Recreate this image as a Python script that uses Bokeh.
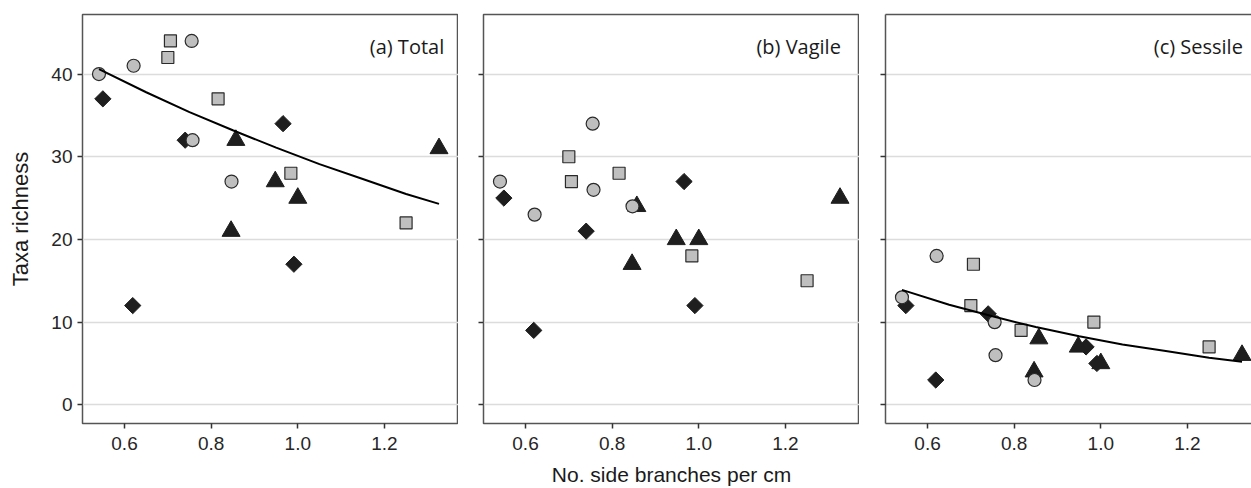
from bokeh.plotting import figure
from bokeh.layouts import row
from bokeh.models import Range1d, FixedTicker, NumeralTickFormatter, Label, LinearAxis
from bokeh.embed import file_html
from bokeh.resources import INLINE
import math

# ---- data ----
circle_x = [0.541, 0.621, 0.755, 0.757, 0.847]
circle_total = [40, 41, 44, 32, 27]
circle_vagile = [27, 23, 34, 26, 24]
circle_sessile = [13, 18, 10, 6, 3]

square_x = [0.700, 0.706, 0.816, 0.984, 1.250]
square_total = [42, 44, 37, 28, 22]
square_vagile = [30, 27, 28, 18, 15]
square_sessile = [12, 17, 9, 10, 7]

diamond_x = [0.550, 0.619, 0.740, 0.966, 0.991]
diamond_total = [37, 12, 32, 34, 17]
diamond_vagile = [25, 9, 21, 27, 12]
diamond_sessile = [12, 3, 11, 7, 5]

triangle_x = [0.846, 0.857, 0.948, 1.000, 1.326]
triangle_total = [21, 32, 27, 25, 31]
triangle_vagile = [17, 24, 20, 20, 25]
triangle_sessile = [4, 8, 7, 5, 6]

fit_x = [0.541, 0.65, 0.75, 0.85, 0.95, 1.05, 1.15, 1.25, 1.326]
total_fit = [40.6, 37.8, 35.4, 33.2, 31.1, 29.1, 27.3, 25.5, 24.3]
sessile_fit = [13.9, 12.1, 10.7, 9.4, 8.3, 7.3, 6.5, 5.7, 5.2]

panel_titles = ["(a) Total", "(b) Vagile", "(c) Sessile"]
x_ticks = [0.6, 0.8, 1.0, 1.2]
y_ticks = [0, 10, 20, 30, 40]

GRAY = "#bfbfbf"
DARK = "#1e1e1e"
EDGE = "#2a2a2a"
FRAME = "#555555"

Y0, Y1 = -2.26, 47.2
X0 = 0.503


def make_panel(idx, ys, fit, frame_w, x_end, left_border, right_border, open_right=False):
    p = figure(output_backend="svg", toolbar_location=None,
               frame_width=frame_w, frame_height=409,
               min_border_left=left_border, min_border_right=right_border,
               min_border_top=14, min_border_bottom=65,
               x_range=Range1d(X0, x_end), y_range=Range1d(Y0, Y1),
               background_fill_color="white", border_fill_color="white")
    xax = p.below[0]
    yax = p.left[0]
    p.xgrid.grid_line_color = None
    p.ygrid.grid_line_color = "#dcdcdc"
    p.ygrid.grid_line_width = 1.6
    xax.ticker = FixedTicker(ticks=x_ticks)
    yax.ticker = FixedTicker(ticks=y_ticks)
    xax.formatter = NumeralTickFormatter(format="0.0")
    for ax in (xax, yax):
        ax.axis_line_color = FRAME if open_right else None
        ax.axis_line_width = 1.5
        ax.major_tick_line_color = "#333333"
        ax.major_tick_line_width = 1.5
        ax.major_tick_out = 5
        ax.major_tick_in = 0
        ax.minor_tick_line_color = None
        ax.major_label_text_font = "Liberation Sans"
        ax.major_label_text_font_size = "19px"
        ax.major_label_text_color = "#262626"
        ax.axis_label_text_font = "Liberation Sans"
        ax.axis_label_text_font_size = "21px"
        ax.axis_label_text_font_style = "normal"
        ax.axis_label_text_color = "#1a1a1a"
    xax.major_label_standoff = 8
    yax.major_label_standoff = 5
    if idx != 0:
        yax.major_label_overrides = {t: "" for t in y_ticks}
    else:
        yax.axis_label = "Taxa richness"
        yax.axis_label_text_font_size = "22px"
        yax.axis_label_standoff = 15
    if idx == 1:
        xax.axis_label = "No. side branches per cm"
        xax.axis_label_standoff = 10

    if open_right:
        p.outline_line_color = None
        top = LinearAxis(ticker=FixedTicker(ticks=[]), axis_line_color=FRAME,
                         axis_line_width=1.5, major_tick_line_color=None,
                         minor_tick_line_color=None, major_label_standoff=0)
        p.add_layout(top, "above")
    else:
        p.outline_line_color = FRAME
        p.outline_line_width = 1.5

    cy, sy, dy, ty = ys
    p.scatter(square_x, sy, marker="square", size=12,
              fill_color=GRAY, line_color=EDGE, line_width=1.2)
    p.scatter(diamond_x, dy, marker="square", size=11.5, angle=math.pi / 4,
              fill_color=DARK, line_color=DARK, line_width=1)
    p.scatter(triangle_x, ty, marker="triangle", size=18,
              fill_color=DARK, line_color=DARK, line_width=1)
    p.scatter(circle_x, cy, marker="circle", size=13,
              fill_color=GRAY, line_color=EDGE, line_width=1.2)
    if fit is not None:
        p.line(fit_x, fit, line_color="black", line_width=2)

    lab_x = 1.338 if idx == 0 else 1.328
    p.add_layout(Label(x=lab_x, y=43.3, text=panel_titles[idx],
                       text_align="right", text_baseline="alphabetic",
                       text_font="Open Sans", text_font_size="20px",
                       text_color="#1a1a1a"))
    return p


p1 = make_panel(0, (circle_total, square_total, diamond_total, triangle_total),
                total_fit, 376, 1.371, 82, 0)
p2 = make_panel(1, (circle_vagile, square_vagile, diamond_vagile, triangle_vagile),
                None, 376, 1.371, 25, 0)
p3 = make_panel(2, (circle_sessile, square_sessile, diamond_sessile, triangle_sessile),
                sessile_fit, 366, X0 + 366 / 433.2, 26, 0, open_right=True)

layout = row(p1, p2, p3, spacing=0)
open("out.html", "w").write(file_html(layout, INLINE))
